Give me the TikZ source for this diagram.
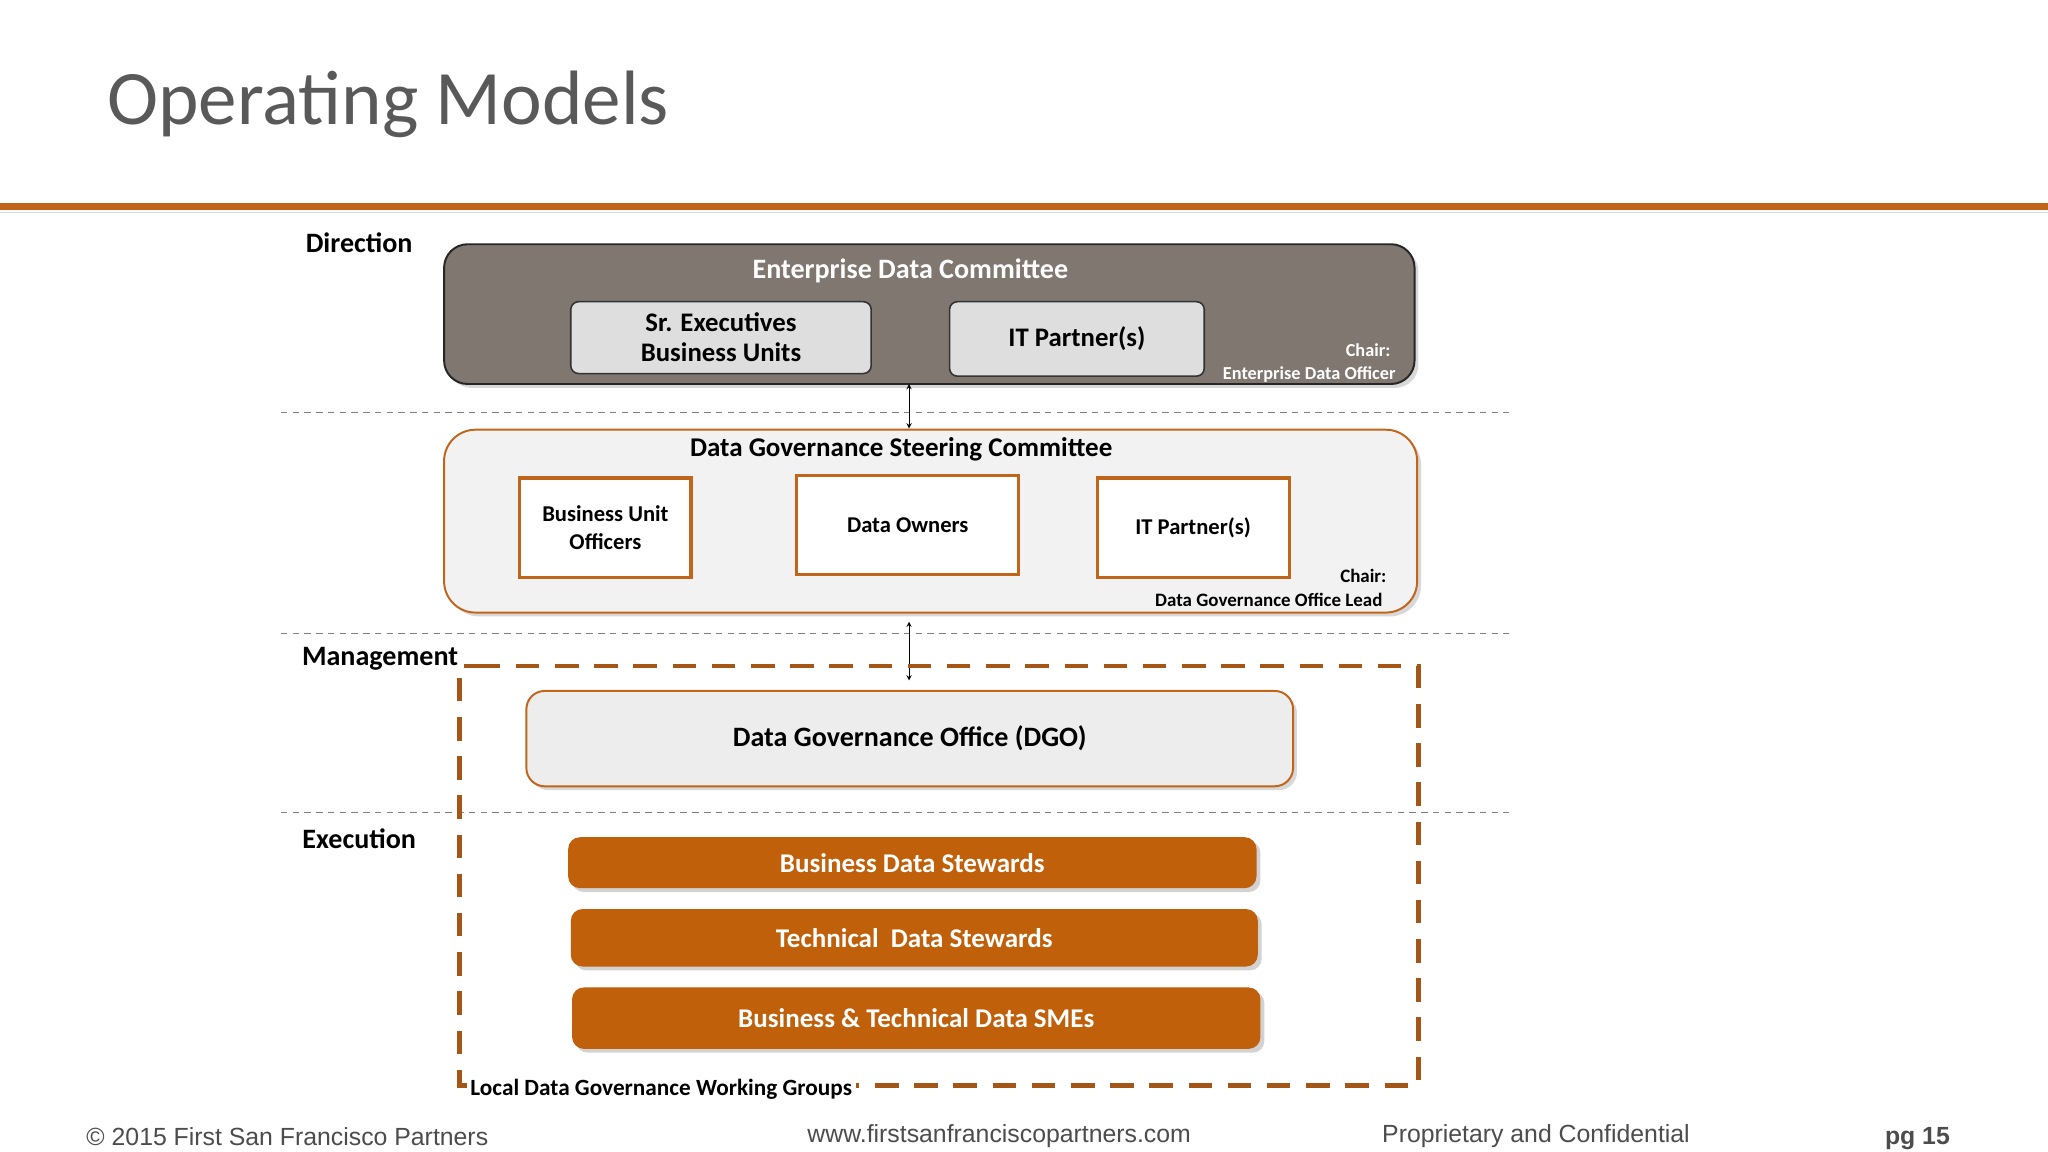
\documentclass[tikz,border=0pt]{standalone}
\usepackage{fontspec}
\setmainfont{Carlito}
\newfontfamily\arialf{Liberation Sans}
\usetikzlibrary{shadows}
\definecolor{org}{HTML}{C0600A}
\definecolor{orgb}{HTML}{C0651A}
\definecolor{edcg}{HTML}{7F7770}
\definecolor{ttl}{HTML}{595959}
\begin{document}
\begin{tikzpicture}[x=1pt,y=-1pt,
 lbl/.style={font=\fontsize{21.5}{25}\selectfont\bfseries},
 sep/.style={gray,dashed,line width=0.9pt,dash pattern=on 5pt off 4pt},
 inner/.style={draw=black!80,fill=black!13,rounded corners=6pt,line width=1.2pt,font=\fontsize{20.5}{24}\selectfont\bfseries,align=center},
 obox/.style={draw=orgb,fill=white,line width=2.5pt,font=\fontsize{17.3}{21}\selectfont\bfseries,align=center},
 bar/.style={fill=org,rounded corners=9pt,drop shadow={shadow xshift=3pt,shadow yshift=-3pt,opacity=.35},font=\fontsize{20.7}{24}\selectfont\bfseries,text=white},
 foot/.style={font=\arialf\fontsize{19}{23}\selectfont,text=black!70}]
\useasboundingbox (0,0) rectangle (1568,882);
\fill[white] (0,0) rectangle (1568,882);
\node[anchor=base west,text=ttl,font=\fontsize{59}{63}\selectfont,inner sep=0] (title) at (82,95) {Operating Models};
\draw[orgb,line width=5pt] (0,158) -- (1568,158);
\draw[black!15,line width=1pt] (0,162.5) -- (1568,162.5);
% separators
\draw[sep] (215,316) -- (1155,316);
\draw[sep] (215,485) -- (1155,485);
\draw[sep] (215,622) -- (1155,622);
% section labels
\node[lbl] (dir) at (275,186) {Direction};
\node[lbl] (mgmt) at (291,504) {Management};
\node[lbl] (exe) at (275,642) {Execution};
% EDC
\node[draw=black!85,fill=edcg,rounded corners=18pt,line width=1.5pt,minimum width=743,minimum height=107,drop shadow={shadow xshift=3pt,shadow yshift=-3pt,opacity=.3}] (edc) at (711.5,240.5) {};
\node[text=white,font=\fontsize{21.5}{25}\selectfont\bfseries] (edct) at (697,207) {Enterprise Data Committee};
\node[inner,minimum width=230,minimum height=55] (sr) at (552,258.5) {Sr. Executives\\[-1pt]Business Units};
\node[inner,minimum width=195,minimum height=57] (itp) at (824.5,259.5) {IT Partner(s)};
\node[text=white,font=\fontsize{14}{16}\selectfont\bfseries,anchor=east] (ch1) at (1068,268) {Chair:};
\node[text=white,font=\fontsize{14}{16}\selectfont\bfseries,anchor=east] (ch1b) at (1072,287) {Enterprise Data Officer};
% DGSC
\node[draw=orgb,fill=black!5,rounded corners=24pt,line width=1.5pt,minimum width=745,minimum height=140,drop shadow={shadow xshift=3pt,shadow yshift=-3pt,opacity=.3}] (dgsc) at (712.5,399) {};
\node[font=\fontsize{20.7}{24}\selectfont\bfseries] (dgsct) at (690,344) {Data Governance Steering Committee};
\node[obox,minimum width=131,minimum height=76] (buo) at (463.5,404) {Business Unit\\Officers};
\node[obox,minimum width=170,minimum height=76] (dow) at (695,402) {Data Owners};
\node[obox,minimum width=147,minimum height=76] (itp2) at (913.5,404) {IT Partner(s)};
\node[font=\fontsize{14.5}{17}\selectfont\bfseries,anchor=east] (ch2) at (1065,441) {Chair:};
\node[font=\fontsize{14.5}{17}\selectfont\bfseries,anchor=east] (ch2b) at (1062,459) {Data Governance Office Lead};
% arrows
\coordinate (a1) at (696,294); \coordinate (a2) at (696,328);
\draw[<->,>=stealth,line width=0.8pt] (a1) -- (a2);
\coordinate (b1) at (696,476); \coordinate (b2) at (696,521);
\draw[<->,>=stealth,line width=0.8pt] (b1) -- (b2);
% working group frame
\draw[orgb!85!black,line width=3.5pt,dash pattern=on 18pt off 12pt] (365,510) -- (1086,510) -- (1086,831) -- (352,831) -- (352,510) -- (365,510);
\node[fill=white,anchor=west,font=\fontsize{17.8}{21}\selectfont\bfseries,inner sep=3pt] (lwg) at (357,834) {Local Data Governance Working Groups};
% DGO
\node[draw=orgb,fill=black!7,rounded corners=14pt,line width=1.5pt,minimum width=587,minimum height=73,font=\fontsize{21.5}{25}\selectfont\bfseries,drop shadow={shadow xshift=3pt,shadow yshift=-3pt,opacity=.3}] (dgo) at (696.5,565.5) {Data Governance Office (DGO)};
% bars
\node[bar,minimum width=527,minimum height=39] (bds) at (698.5,660.5) {Business Data Stewards};
\node[bar,minimum width=526,minimum height=44] (tds) at (700,718) {Technical\ \ Data Stewards};
\node[bar,minimum width=527,minimum height=47] (sme) at (701.5,779.5) {Business \& Technical Data SMEs};
% footer
\node[foot] (f1) at (220,870) {© 2015 First San Francisco Partners};
\node[foot] (f2) at (765,870) {www.firstsanfranciscopartners.com};
\node[foot] (f3) at (1176,870) {Proprietary and Confidential};
\node[foot,font=\arialf\fontsize{19}{23}\selectfont\bfseries] (f4) at (1468,872) {pg 15};
\end{tikzpicture}
\end{document}
